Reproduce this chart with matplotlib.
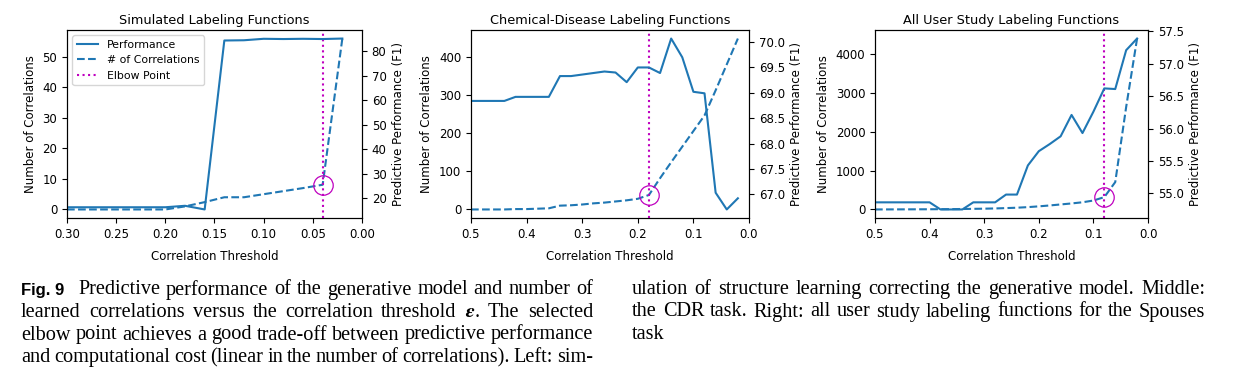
import matplotlib
matplotlib.use("Agg")
import matplotlib.pyplot as plt
from matplotlib.ticker import MultipleLocator, FormatStrFormatter

# ---- data ----
thr_sim = [0.30, 0.28, 0.26, 0.24, 0.22, 0.20, 0.18, 0.16, 0.14, 0.12, 0.10, 0.08, 0.06, 0.04, 0.02]
perf_sim = [16.2, 16.2, 16.2, 16.2, 16.2, 16.2, 16.8, 15.3, 84.4, 84.5, 85.1, 85.0, 85.1, 85.0, 85.2]
corr_sim = [0, 0, 0, 0, 0, 0, 1, 2.4, 4, 4, 5, 6, 7, 8.1, 56]

thr = [0.50, 0.48, 0.46, 0.44, 0.42, 0.40, 0.38, 0.36, 0.34, 0.32, 0.30, 0.28, 0.26,
       0.24, 0.22, 0.20, 0.18, 0.16, 0.14, 0.12, 0.10, 0.08, 0.06, 0.04, 0.02]
perf_cdr = [68.84, 68.84, 68.84, 68.84, 68.92, 68.92, 68.92, 68.92, 69.33, 69.33, 69.36, 69.39, 69.42,
            69.40, 69.21, 69.50, 69.50, 69.39, 70.07, 69.70, 69.02, 68.99, 67.03, 66.70, 66.92]
corr_cdr = [0, 0, 0, 0, 1, 1, 2, 3, 10, 11, 13, 16, 18, 21, 24, 28, 38, 82, 124, 165, 206, 247, 313, 381, 449]

perf_sp = [54.86, 54.86, 54.86, 54.86, 54.86, 54.86, 54.75, 54.75, 54.75, 54.86, 54.86, 54.86, 54.98,
           54.98, 55.43, 55.65, 55.76, 55.88, 56.21, 55.93, 56.26, 56.62, 56.61, 57.21, 57.39]
corr_sp = [0, 1, 2, 3, 4, 5, 7, 9, 12, 16, 20, 26, 35, 45, 60, 80, 103, 129, 155, 185, 230, 318, 705, 2640, 4405]

titles = ["Simulated Labeling Functions", "Chemical-Disease Labeling Functions",
          "All User Study Labeling Functions"]
elbows = [0.04, 0.18, 0.08]
xlims = [(0.30, 0.0), (0.5, 0.0), (0.5, 0.0)]
right_steps = [10, 0.5, 0.5]
right_fmts = ["%d", "%.1f", "%.1f"]

plt.rcParams["font.size"] = 8.5
plt.rcParams["mathtext.fontset"] = "stix"

fig = plt.figure(figsize=(12.33, 3.79), dpi=100)
W, H = 1233, 379
boxes = [(67, 362), (471, 749), (875, 1148)]
top, bot = 30, 218

series = [(thr_sim, perf_sim, corr_sim), (thr, perf_cdr, corr_cdr), (thr, perf_sp, corr_sp)]
for i, (xs, perf, corr) in enumerate(series):
    l, r = boxes[i]
    ax = fig.add_axes([l / W, 1 - bot / H, (r - l) / W, (bot - top) / H])
    ax2 = ax.twinx()
    p1, = ax2.plot(xs, perf, "-", color="#1f77b4", lw=1.5, label="Performance")
    p2, = ax.plot(xs, corr, "--", color="#1f77b4", lw=1.5, label="# of Correlations")
    p3 = ax.axvline(elbows[i], color="m", ls=":", lw=1.5, label="Elbow Point")
    k = xs.index(elbows[i])
    ax.plot(xs[k], corr[k], "o", mfc="none", mec="m", ms=14, mew=0.9)
    ax.set_xlim(*xlims[i])
    ax2.yaxis.set_major_locator(MultipleLocator(right_steps[i]))
    ax2.yaxis.set_major_formatter(FormatStrFormatter(right_fmts[i]))
    ax.set_title(titles[i], fontsize=9.3, pad=4)
    ax.set_xlabel("Correlation Threshold", labelpad=7)
    ax.set_ylabel("Number of Correlations")
    ax2.set_ylabel("Predictive Performance (F1)")
    if i == 0:
        ax.yaxis.set_major_locator(MultipleLocator(10))
        ax.legend(handles=[p1, p2, p3], loc="upper left", fontsize=7.8)

# ---- caption (justified lines) ----
rend = fig.canvas.get_renderer()
serif = dict(family="Liberation Serif", fontsize=12, va="baseline")

# pick one size so that a full line sets at its natural width
probe = fig.text(0, 0, "elbow point achieves a good trade-off between predictive performance", **serif)
serif["fontsize"] = 12 * 572 / probe.get_window_extent(rend).width
probe.remove()


def justify(words, x0, x1, y, fill=True):
    ts = [fig.text(0, 1 - y / H, w, **serif) for w in words]
    ws = [t.get_window_extent(rend).width for t in ts]
    gap = (x1 - x0 - sum(ws)) / (len(ws) - 1) if fill and len(ws) > 1 else 4
    x = x0
    for t, w in zip(ts, ws):
        t.set_x(x / W)
        x += w + gap


fig.text(21 / W, 1 - 294.5 / H, "Fig. 9", family="Liberation Sans", weight="bold",
         fontsize=12, va="baseline")
left_lines = [
    (78, 294.5, "Predictive performance of the generative model and number of"),
    (21, 317, "learned correlations versus the correlation threshold $\\boldsymbol{\\epsilon}$. The selected"),
    (21, 339.5, "elbow point achieves a good trade-off between predictive performance"),
    (21, 362, "and computational cost (linear in the number of correlations). Left: sim-"),
]
for x0, y, s in left_lines:
    justify(s.split(" "), x0, 593, y)

right_lines = [
    (294, "ulation of structure learning correcting the generative model. Middle:", True),
    (316.5, "the CDR task. Right: all user study labeling functions for the Spouses", True),
    (339, "task", False),
]
for y, s, f in right_lines:
    justify(s.split(" "), 632, 1205, y, f)

fig.savefig("out.png", dpi=100)
